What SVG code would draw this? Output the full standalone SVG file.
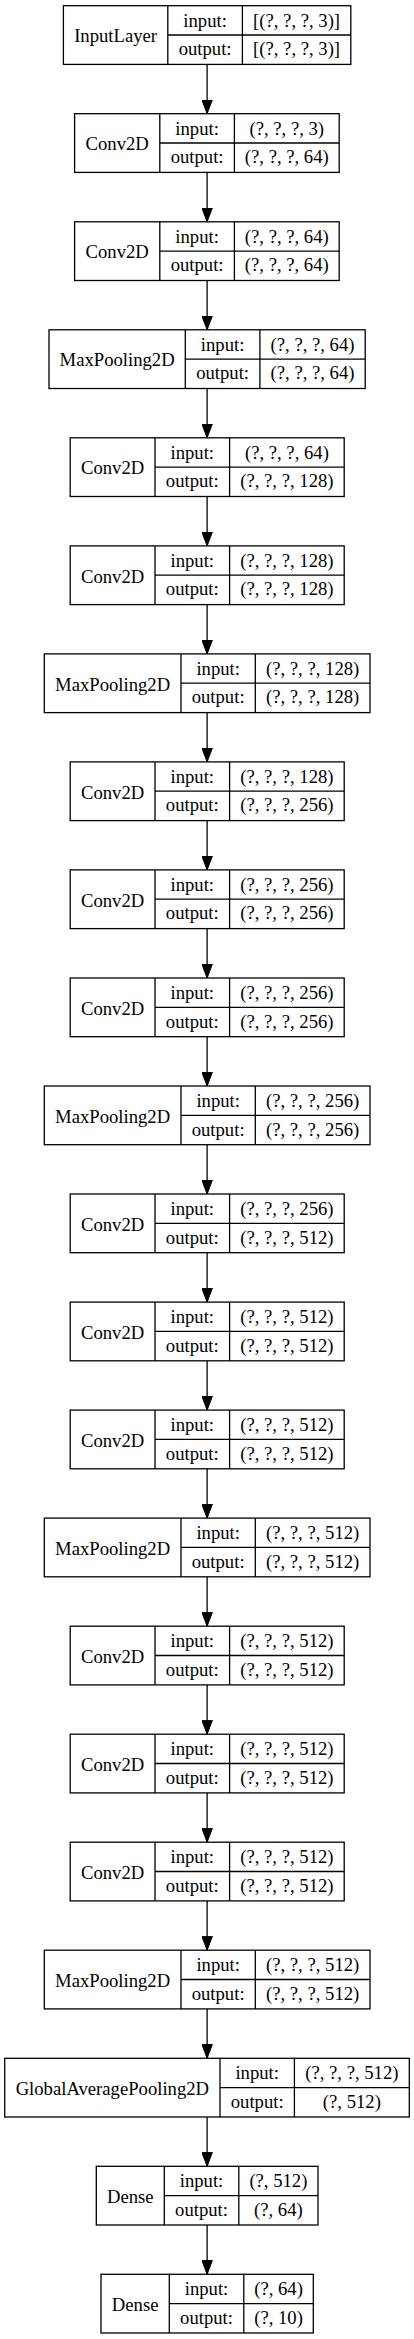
<svg xmlns="http://www.w3.org/2000/svg" width="414" height="2339" viewBox="0 0 414 2339">
<style>
.b{fill:#fff;stroke:#000;stroke-width:1.3}
.l{stroke:#000;stroke-width:1.3;fill:none}
text{font-family:"Liberation Serif","Times New Roman",serif;font-size:18.67px;fill:#000;text-anchor:middle}
.e{stroke:#000;stroke-width:1.3;fill:none;marker-end:url(#arr)}
</style>
<defs>
<marker id="arr" viewBox="0 -5.4 14 10.8" markerWidth="14" markerHeight="10.8" refX="14" refY="0" orient="auto" markerUnits="userSpaceOnUse">
<path d="M0,-5.3L14,0L0,5.3z" fill="#000" stroke="#000" stroke-width="1"/>
</marker>
</defs>
<rect width="414" height="2339" fill="#fff"/>
<g id="edges">
<line class="e" x1="207.1" y1="64.4" x2="207.1" y2="113.7"/>
<line class="e" x1="207.1" y1="172.4" x2="207.1" y2="221.8"/>
<line class="e" x1="207.1" y1="280.5" x2="207.1" y2="329.8"/>
<line class="e" x1="207.1" y1="388.5" x2="207.1" y2="437.8"/>
<line class="e" x1="207.1" y1="496.5" x2="207.1" y2="545.9"/>
<line class="e" x1="207.1" y1="604.6" x2="207.1" y2="653.9"/>
<line class="e" x1="207.1" y1="712.6" x2="207.1" y2="761.9"/>
<line class="e" x1="207.1" y1="820.6" x2="207.1" y2="869.9"/>
<line class="e" x1="207.1" y1="928.6" x2="207.1" y2="978.0"/>
<line class="e" x1="207.1" y1="1036.7" x2="207.1" y2="1086.0"/>
<line class="e" x1="207.1" y1="1144.7" x2="207.1" y2="1194.0"/>
<line class="e" x1="207.1" y1="1252.7" x2="207.1" y2="1302.1"/>
<line class="e" x1="207.1" y1="1360.8" x2="207.1" y2="1410.1"/>
<line class="e" x1="207.1" y1="1468.8" x2="207.1" y2="1518.1"/>
<line class="e" x1="207.1" y1="1576.8" x2="207.1" y2="1626.2"/>
<line class="e" x1="207.1" y1="1684.9" x2="207.1" y2="1734.2"/>
<line class="e" x1="207.1" y1="1792.9" x2="207.1" y2="1842.2"/>
<line class="e" x1="207.1" y1="1900.9" x2="207.1" y2="1950.2"/>
<line class="e" x1="207.1" y1="2008.9" x2="207.1" y2="2058.3"/>
<line class="e" x1="207.1" y1="2117.0" x2="207.1" y2="2166.3"/>
<line class="e" x1="207.1" y1="2225.0" x2="207.1" y2="2274.3"/>
</g>
<g id="n0" transform="translate(0,5.7)">
<rect class="b" x="63.4" y="0" width="287.4" height="58.7"/>
<path class="l" d="M167.8,0V58.7M242.4,0V58.7M167.8,29.3H350.8"/>
<text x="115.6" y="36.7">InputLayer</text><text x="205.1" y="21">input:</text><text x="205.1" y="49.5">output:</text>
<text x="296.6" y="21">[(?, ?, ?, 3)]</text><text x="296.6" y="49.5">[(?, ?, ?, 3)]</text>
</g>
<g id="n1" transform="translate(0,113.7)">
<rect class="b" x="74.6" y="0" width="264.6" height="58.7"/>
<path class="l" d="M159.8,0V58.7M234.4,0V58.7M159.8,29.3H339.2"/>
<text x="117.2" y="36.7">Conv2D</text><text x="197.1" y="21">input:</text><text x="197.1" y="49.5">output:</text>
<text x="286.8" y="21">(?, ?, ?, 3)</text><text x="286.8" y="49.5">(?, ?, ?, 64)</text>
</g>
<g id="n2" transform="translate(0,221.8)">
<rect class="b" x="74.6" y="0" width="264.6" height="58.7"/>
<path class="l" d="M159.8,0V58.7M234.4,0V58.7M159.8,29.3H339.2"/>
<text x="117.2" y="36.7">Conv2D</text><text x="197.1" y="21">input:</text><text x="197.1" y="49.5">output:</text>
<text x="286.8" y="21">(?, ?, ?, 64)</text><text x="286.8" y="49.5">(?, ?, ?, 64)</text>
</g>
<g id="n3" transform="translate(0,329.8)">
<rect class="b" x="49" y="0" width="316.2" height="58.7"/>
<path class="l" d="M185.3,0V58.7M259.9,0V58.7M185.3,29.3H365.2"/>
<text x="117.15" y="36.7">MaxPooling2D</text><text x="222.6" y="21">input:</text><text x="222.6" y="49.5">output:</text>
<text x="312.55" y="21">(?, ?, ?, 64)</text><text x="312.55" y="49.5">(?, ?, ?, 64)</text>
</g>
<g id="n4" transform="translate(0,437.8)">
<rect class="b" x="70.2" y="0" width="274" height="58.7"/>
<path class="l" d="M155,0V58.7M229.6,0V58.7M155,29.3H344.2"/>
<text x="112.6" y="36.7">Conv2D</text><text x="192.3" y="21">input:</text><text x="192.3" y="49.5">output:</text>
<text x="286.9" y="21">(?, ?, ?, 64)</text><text x="286.9" y="49.5">(?, ?, ?, 128)</text>
</g>
<g id="n5" transform="translate(0,545.9)">
<rect class="b" x="70.2" y="0" width="274" height="58.7"/>
<path class="l" d="M155,0V58.7M229.6,0V58.7M155,29.3H344.2"/>
<text x="112.6" y="36.7">Conv2D</text><text x="192.3" y="21">input:</text><text x="192.3" y="49.5">output:</text>
<text x="286.9" y="21">(?, ?, ?, 128)</text><text x="286.9" y="49.5">(?, ?, ?, 128)</text>
</g>
<g id="n6" transform="translate(0,653.9)">
<rect class="b" x="44.3" y="0" width="325.7" height="58.7"/>
<path class="l" d="M181,0V58.7M255.3,0V58.7M181,29.3H370"/>
<text x="112.65" y="36.7">MaxPooling2D</text><text x="218.15" y="21">input:</text><text x="218.15" y="49.5">output:</text>
<text x="312.65" y="21">(?, ?, ?, 128)</text><text x="312.65" y="49.5">(?, ?, ?, 128)</text>
</g>
<g id="n7" transform="translate(0,761.9)">
<rect class="b" x="70.2" y="0" width="274" height="58.7"/>
<path class="l" d="M155,0V58.7M229.6,0V58.7M155,29.3H344.2"/>
<text x="112.6" y="36.7">Conv2D</text><text x="192.3" y="21">input:</text><text x="192.3" y="49.5">output:</text>
<text x="286.9" y="21">(?, ?, ?, 128)</text><text x="286.9" y="49.5">(?, ?, ?, 256)</text>
</g>
<g id="n8" transform="translate(0,869.9)">
<rect class="b" x="70.2" y="0" width="274" height="58.7"/>
<path class="l" d="M155,0V58.7M229.6,0V58.7M155,29.3H344.2"/>
<text x="112.6" y="36.7">Conv2D</text><text x="192.3" y="21">input:</text><text x="192.3" y="49.5">output:</text>
<text x="286.9" y="21">(?, ?, ?, 256)</text><text x="286.9" y="49.5">(?, ?, ?, 256)</text>
</g>
<g id="n9" transform="translate(0,978.0)">
<rect class="b" x="70.2" y="0" width="274" height="58.7"/>
<path class="l" d="M155,0V58.7M229.6,0V58.7M155,29.3H344.2"/>
<text x="112.6" y="36.7">Conv2D</text><text x="192.3" y="21">input:</text><text x="192.3" y="49.5">output:</text>
<text x="286.9" y="21">(?, ?, ?, 256)</text><text x="286.9" y="49.5">(?, ?, ?, 256)</text>
</g>
<g id="n10" transform="translate(0,1086.0)">
<rect class="b" x="44.3" y="0" width="325.7" height="58.7"/>
<path class="l" d="M181,0V58.7M255.3,0V58.7M181,29.3H370"/>
<text x="112.65" y="36.7">MaxPooling2D</text><text x="218.15" y="21">input:</text><text x="218.15" y="49.5">output:</text>
<text x="312.65" y="21">(?, ?, ?, 256)</text><text x="312.65" y="49.5">(?, ?, ?, 256)</text>
</g>
<g id="n11" transform="translate(0,1194.0)">
<rect class="b" x="70.2" y="0" width="274" height="58.7"/>
<path class="l" d="M155,0V58.7M229.6,0V58.7M155,29.3H344.2"/>
<text x="112.6" y="36.7">Conv2D</text><text x="192.3" y="21">input:</text><text x="192.3" y="49.5">output:</text>
<text x="286.9" y="21">(?, ?, ?, 256)</text><text x="286.9" y="49.5">(?, ?, ?, 512)</text>
</g>
<g id="n12" transform="translate(0,1302.1)">
<rect class="b" x="70.2" y="0" width="274" height="58.7"/>
<path class="l" d="M155,0V58.7M229.6,0V58.7M155,29.3H344.2"/>
<text x="112.6" y="36.7">Conv2D</text><text x="192.3" y="21">input:</text><text x="192.3" y="49.5">output:</text>
<text x="286.9" y="21">(?, ?, ?, 512)</text><text x="286.9" y="49.5">(?, ?, ?, 512)</text>
</g>
<g id="n13" transform="translate(0,1410.1)">
<rect class="b" x="70.2" y="0" width="274" height="58.7"/>
<path class="l" d="M155,0V58.7M229.6,0V58.7M155,29.3H344.2"/>
<text x="112.6" y="36.7">Conv2D</text><text x="192.3" y="21">input:</text><text x="192.3" y="49.5">output:</text>
<text x="286.9" y="21">(?, ?, ?, 512)</text><text x="286.9" y="49.5">(?, ?, ?, 512)</text>
</g>
<g id="n14" transform="translate(0,1518.1)">
<rect class="b" x="44.3" y="0" width="325.7" height="58.7"/>
<path class="l" d="M181,0V58.7M255.3,0V58.7M181,29.3H370"/>
<text x="112.65" y="36.7">MaxPooling2D</text><text x="218.15" y="21">input:</text><text x="218.15" y="49.5">output:</text>
<text x="312.65" y="21">(?, ?, ?, 512)</text><text x="312.65" y="49.5">(?, ?, ?, 512)</text>
</g>
<g id="n15" transform="translate(0,1626.2)">
<rect class="b" x="70.2" y="0" width="274" height="58.7"/>
<path class="l" d="M155,0V58.7M229.6,0V58.7M155,29.3H344.2"/>
<text x="112.6" y="36.7">Conv2D</text><text x="192.3" y="21">input:</text><text x="192.3" y="49.5">output:</text>
<text x="286.9" y="21">(?, ?, ?, 512)</text><text x="286.9" y="49.5">(?, ?, ?, 512)</text>
</g>
<g id="n16" transform="translate(0,1734.2)">
<rect class="b" x="70.2" y="0" width="274" height="58.7"/>
<path class="l" d="M155,0V58.7M229.6,0V58.7M155,29.3H344.2"/>
<text x="112.6" y="36.7">Conv2D</text><text x="192.3" y="21">input:</text><text x="192.3" y="49.5">output:</text>
<text x="286.9" y="21">(?, ?, ?, 512)</text><text x="286.9" y="49.5">(?, ?, ?, 512)</text>
</g>
<g id="n17" transform="translate(0,1842.2)">
<rect class="b" x="70.2" y="0" width="274" height="58.7"/>
<path class="l" d="M155,0V58.7M229.6,0V58.7M155,29.3H344.2"/>
<text x="112.6" y="36.7">Conv2D</text><text x="192.3" y="21">input:</text><text x="192.3" y="49.5">output:</text>
<text x="286.9" y="21">(?, ?, ?, 512)</text><text x="286.9" y="49.5">(?, ?, ?, 512)</text>
</g>
<g id="n18" transform="translate(0,1950.2)">
<rect class="b" x="44.3" y="0" width="325.7" height="58.7"/>
<path class="l" d="M181,0V58.7M255.3,0V58.7M181,29.3H370"/>
<text x="112.65" y="36.7">MaxPooling2D</text><text x="218.15" y="21">input:</text><text x="218.15" y="49.5">output:</text>
<text x="312.65" y="21">(?, ?, ?, 512)</text><text x="312.65" y="49.5">(?, ?, ?, 512)</text>
</g>
<g id="n19" transform="translate(0,2058.3)">
<rect class="b" x="4.7" y="0" width="404.6" height="58.7"/>
<path class="l" d="M220,0V58.7M294.4,0V58.7M220,29.3H409.3"/>
<text x="112.35" y="36.7">GlobalAveragePooling2D</text><text x="257.2" y="21">input:</text><text x="257.2" y="49.5">output:</text>
<text x="351.85" y="21">(?, ?, ?, 512)</text><text x="351.85" y="49.5">(?, 512)</text>
</g>
<g id="n20" transform="translate(0,2166.3)">
<rect class="b" x="96.3" y="0" width="221.7" height="58.7"/>
<path class="l" d="M164.3,0V58.7M238.8,0V58.7M164.3,29.3H318"/>
<text x="130.3" y="36.7">Dense</text><text x="201.55" y="21">input:</text><text x="201.55" y="49.5">output:</text>
<text x="278.4" y="21">(?, 512)</text><text x="278.4" y="49.5">(?, 64)</text>
</g>
<g id="n21" transform="translate(0,2274.3)">
<rect class="b" x="101" y="0" width="212.3" height="58.7"/>
<path class="l" d="M169.3,0V58.7M243.8,0V58.7M169.3,29.3H313.3"/>
<text x="135.15" y="36.7">Dense</text><text x="206.55" y="21">input:</text><text x="206.55" y="49.5">output:</text>
<text x="278.55" y="21">(?, 64)</text><text x="278.55" y="49.5">(?, 10)</text>
</g>
</svg>
